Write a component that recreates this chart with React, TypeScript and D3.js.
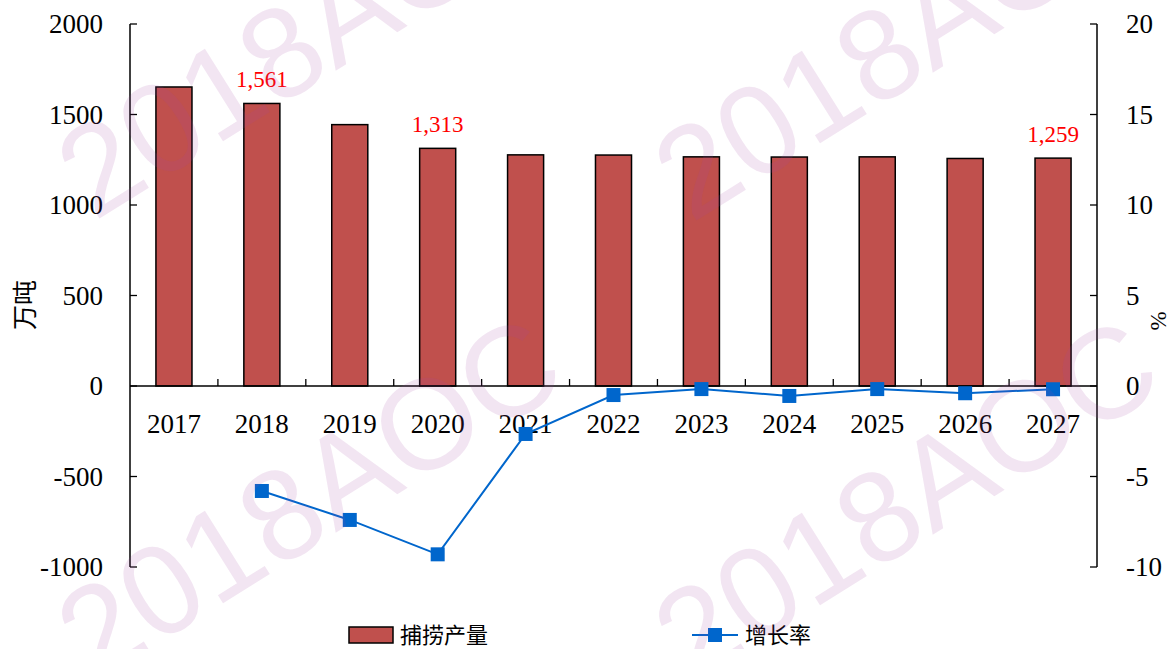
import React from "react";
import * as d3 from "d3";

const years = ["2017", "2018", "2019", "2020", "2021", "2022", "2023", "2024", "2025", "2026", "2027"];
const catch_ = [1652, 1561, 1444, 1313, 1277, 1276, 1266, 1265, 1266, 1257, 1259];
const growth = [null, -5.8, -7.4, -9.3, -2.65, -0.5, -0.17, -0.55, -0.17, -0.4, -0.18];
const labelled = ["2018", "2020", "2027"];
const leftTicks = [2000, 1500, 1000, 500, 0, -500, -1000];
const rightTicks = [20, 15, 10, 5, 0, -5, -10];
const watermarkText = "2018AOC";
const watermarkAnchors = [
  [94, 222],
  [691, 224],
  [94, 684],
  [691, 686],
];

const W = 1171;
const H = 649;
const serif = "'Liberation Serif', 'Times New Roman', serif";
const cjk = "'Noto Sans CJK SC', sans-serif";

export default function App() {
  const x = d3.scaleBand<string>().domain(years).range([130, 1097]).padding(0);
  const yL = d3.scaleLinear().domain([-1000, 2000]).range([567, 24]);
  const yR = d3.scaleLinear().domain([-10, 20]).range([567, 24]);
  const step = x.step();
  const bw = step * 0.41;
  const cx = (d: string) => (x(d) as number) + step / 2;
  const y0 = yL(0);

  const pts = years
    .map((d, i) => ({ d, v: growth[i] }))
    .filter((p) => p.v !== null) as { d: string; v: number }[];
  const line = d3
    .line<{ d: string; v: number }>()
    .x((p) => cx(p.d))
    .y((p) => yR(p.v));

  const blue = "#0066CC";
  const barFill = "#C0504D";
  const ms = 14;

  return (
    <svg
      width={W}
      height={H}
      style={{ position: "absolute", left: 0, top: 0, background: "#fff" }}
    >
      <rect x={0} y={0} width={W} height={H} fill="#fff" />
      {/* bars */}
      {years.map((d, i) => (
        <rect
          key={d}
          x={cx(d) - bw / 2}
          y={yL(catch_[i])}
          width={bw}
          height={y0 - yL(catch_[i])}
          fill={barFill}
          stroke="#000"
          strokeWidth={1.5}
        />
      ))}
      {/* category axis */}
      <line x1={130} x2={1097} y1={y0} y2={y0} stroke="#000" strokeWidth={1.5} />
      {years.slice(1).map((d) => (
        <line
          key={"ct" + d}
          x1={x(d) as number}
          x2={x(d) as number}
          y1={y0}
          y2={y0 - 7}
          stroke="#000"
          strokeWidth={1.3}
        />
      ))}
      {years.map((d) => (
        <text
          key={"cl" + d}
          x={cx(d)}
          y={y0 + 47}
          textAnchor="middle"
          fontFamily={serif}
          fontSize={27}
          fill="#000"
        >
          {d}
        </text>
      ))}
      {/* left axis */}
      <line x1={130} x2={130} y1={yL(2000)} y2={yL(-1000)} stroke="#000" strokeWidth={1.5} />
      {leftTicks.map((t) => (
        <g key={"lt" + t}>
          <line x1={130} x2={137} y1={yL(t)} y2={yL(t)} stroke="#000" strokeWidth={1.3} />
          <text
            x={103}
            y={yL(t) + 9}
            textAnchor="end"
            fontFamily={serif}
            fontSize={27}
            fill="#000"
          >
            {t}
          </text>
        </g>
      ))}
      {/* right axis */}
      <line x1={1097} x2={1097} y1={yR(20)} y2={yR(-10)} stroke="#000" strokeWidth={1.5} />
      {rightTicks.map((t) => (
        <g key={"rt" + t}>
          <line x1={1090} x2={1097} y1={yR(t)} y2={yR(t)} stroke="#000" strokeWidth={1.3} />
          <text
            x={1126}
            y={yR(t) + 9}
            textAnchor="start"
            fontFamily={serif}
            fontSize={27}
            fill="#000"
          >
            {t}
          </text>
        </g>
      ))}
      {/* axis titles */}
      <text
        transform="translate(34,305) rotate(-90)"
        textAnchor="middle"
        fontFamily={cjk}
        fontSize={25}
        fill="#000"
      >
        万吨
      </text>
      <text
        transform="translate(1166,321) rotate(-90)"
        textAnchor="middle"
        fontFamily={serif}
        fontSize={23}
        fill="#000"
      >
        %
      </text>
      {/* data labels */}
      {years.map((d, i) =>
        labelled.includes(d) ? (
          <text
            key={"dl" + d}
            x={cx(d)}
            y={yL(catch_[i]) - 16}
            textAnchor="middle"
            fontFamily={serif}
            fontSize={23}
            fill="#FF0000"
          >
            {d3.format(",")(catch_[i])}
          </text>
        ) : null
      )}
      {/* growth line */}
      <path d={line(pts) as string} fill="none" stroke={blue} strokeWidth={2} />
      {pts.map((p) => (
        <rect
          key={"m" + p.d}
          x={cx(p.d) - ms / 2}
          y={yR(p.v) - ms / 2}
          width={ms}
          height={ms}
          fill={blue}
        />
      ))}
      {/* legend */}
      <rect x={349} y={627} width={44} height={16} fill={barFill} stroke="#000" strokeWidth={1.5} />
      <text x={400} y={643} fontFamily={cjk} fontSize={22} fill="#000">
        捕捞产量
      </text>
      <line x1={692} x2={738} y1={635} y2={635} stroke={blue} strokeWidth={2} />
      <rect x={715 - 7} y={635 - 7} width={14} height={14} fill={blue} />
      <text x={745} y={643} fontFamily={cjk} fontSize={22} fill="#000">
        增长率
      </text>
      {/* watermark */}
      {watermarkAnchors.map(([wx, wy], i) => (
        <text
          key={"wm" + i}
          transform={`translate(${wx},${wy}) rotate(-32)`}
          fontFamily="'Liberation Sans', Arial, sans-serif"
          fontSize={128}
          fill="rgb(160,70,165)"
          fillOpacity={0.14}
        >
          {watermarkText}
        </text>
      ))}
    </svg>
  );
}
